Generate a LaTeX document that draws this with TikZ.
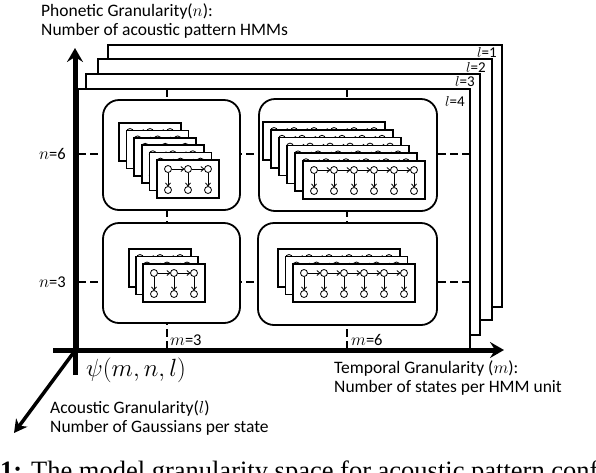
\documentclass[tikz,border=0pt]{standalone}
\usepackage{fontspec}
\setmainfont{Carlito}
\newfontfamily\capfont{Liberation Serif}
\usetikzlibrary{arrows.meta}
\newcommand\hmmcard[3]{%
  \pgfmathsetmacro\hx{#1}%
  \pgfmathsetmacro\hy{#2}%
  \pgfmathsetmacro\cw{22+20*(#3-1)}%
  \filldraw[card] (\hx,\hy) rectangle ++(\cw,38);
  \foreach \j in {1,...,#3}{%
    \pgfmathsetmacro\cx{\hx+11+20*(\j-1)}%
    \draw[st] (\cx,\hy+9) circle[radius=3.5pt];
    \draw[st] (\cx,\hy+30) circle[radius=3.5pt];
    \draw[tr] (\cx,\hy+12.5) -- (\cx,\hy+26.5);
  }
  \foreach \j in {2,...,#3}{%
    \pgfmathsetmacro\cx{\hx+11+20*(\j-1)}%
    \draw[tr] (\cx-16.5,\hy+9) -- (\cx-3.5,\hy+9);
  }
}
\begin{document}
\begin{tikzpicture}[x=1pt,y=-1pt,
  frame/.style={line width=2.5pt,fill=white},
  cell/.style={line width=1.8pt,fill=white,rounded corners=16pt},
  card/.style={line width=1.6pt,fill=white},
  st/.style={line width=0.8pt},
  tr/.style={line width=0.8pt,-{Straight Barb[length=3pt,width=5pt]}},
  tick/.style={line width=2.5pt,dash pattern=on 8pt off 4pt},
  axis/.style={line width=5pt},
  big/.style={font=\fontsize{17.5}{20}\selectfont,inner sep=0pt,anchor=west},
  small/.style={font=\fontsize{16.5}{18}\selectfont,inner sep=0pt},
  lab/.style={font=\fontsize{15}{16}\selectfont,inner sep=0pt,anchor=east}]
\useasboundingbox (0,0) rectangle (596,472);
% layer frames
\filldraw[frame] (108,45) rectangle (502,307);
\filldraw[frame] (98,59) rectangle (492,320);
\filldraw[frame] (86,74) rectangle (480,335);
\filldraw[frame] (78,89) rectangle (470,350);
\node[lab] (l1) at (497,52) {$l$=1};
\node[lab] (l2) at (486,67) {$l$=2};
\node[lab] (l3) at (475,82) {$l$=3};
\node[lab] (l4) at (465,101) {$l$=4};
% grid ticks
\draw[tick] (78,154) -- (470,154);
\draw[tick] (78,282) -- (470,282);
\draw[tick] (167,89) -- (167,350);
\draw[tick] (347,89) -- (347,350);
% cells
\filldraw[cell] (103,100) rectangle (240,210);
\filldraw[cell] (259,99) rectangle (437,211);
\filldraw[cell] (103,223) rectangle (240,323);
\filldraw[cell] (258,223) rectangle (437,325);
% cards
\foreach \k in {0,...,5}{\hmmcard{119+7.6*\k}{123+7.4*\k}{3}}
\foreach \k in {0,...,5}{\hmmcard{263+8*\k}{122+7.8*\k}{6}}
\foreach \k in {0,...,2}{\hmmcard{129+7*\k}{249+7.5*\k}{3}}
\foreach \k in {0,...,2}{\hmmcard{278+7.5*\k}{249+7.5*\k}{6}}
% axes
\coordinate (o) at (75,350);
\coordinate (vtop) at (75,48);
\coordinate (vbot) at (75,375);
\coordinate (hl) at (53,350);
\coordinate (hr) at (504,350);
\coordinate (ds) at (74,352);
\coordinate (de) at (14,433);
\draw[axis,-{Stealth[length=14pt,width=16pt,inset=5pt]}] (vbot) -- (vtop);
\draw[axis,-{Stealth[length=14pt,width=16pt,inset=5pt]}] (hl) -- (hr);
\draw[line width=3.5pt,-{Stealth[length=13pt,width=14pt,inset=4pt]}] (ds) -- (de);
% labels
\node[small,anchor=east] (n6) at (66,154) {$n$=6};
\node[small,anchor=east] (n3) at (66,282) {$n$=3};
\node[small,anchor=west] (m3) at (170,340) {$m$=3};
\node[small,anchor=west] (m6) at (351,340) {$m$=6};
\node[big] (p1) at (41,12) {Phonetic Granularity($n$):};
\node[big] (p2) at (41,31) {Number of acoustic pattern HMMs};
\node[big] (t1) at (334,368) {Temporal Granularity ($m$):};
\node[big] (t2) at (334,388) {Number of states per HMM unit};
\node[big] (a1) at (50,408) {Acoustic Granularity($l$)};
\node[big] (a2) at (50,428) {Number of Gaussians per state};
\node[inner sep=0pt,anchor=west,font=\fontsize{24.5}{26}\selectfont] (psi) at (86,370) {$\psi(m,n,l)$};
\begin{scope}
\clip (0,0) rectangle (596,472);
\node[inner sep=0pt,anchor=base west,font=\capfont\fontsize{26.5}{28}\selectfont] (cap) at (0,479) {\textbf{1:} The model granularity space for acoustic pattern configurations};
\end{scope}
\end{tikzpicture}
\end{document}
